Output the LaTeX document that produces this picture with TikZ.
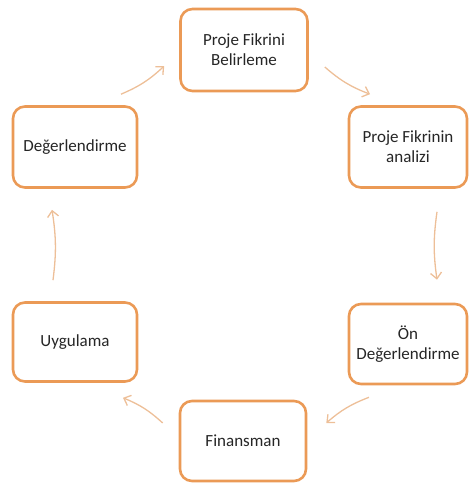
\documentclass[tikz,border=0pt]{standalone}
\usepackage{fontspec}
\setmainfont{Carlito}
\usetikzlibrary{arrows.meta}
\definecolor{boxline}{HTML}{EB9A56}
\definecolor{flowline}{HTML}{EDBF98}
\definecolor{txt}{HTML}{262626}
\tikzset{
  stage/.style={draw=boxline, line width=2.6pt, rounded corners=12pt,
    fill=white, align=center, text=txt, inner sep=2pt,
    font=\fontsize{17}{20}\selectfont},
  flow/.style={draw=flowline, line width=1.3pt,
    -{Straight Barb[length=6pt,width=11pt,line width=1.3pt]}},
}
\begin{document}
\begin{tikzpicture}[x=1pt,y=-1pt]
  \useasboundingbox (0,0) rectangle (470,485);

  % stages of the project cycle
  \node[stage, minimum width=127pt, minimum height=82pt] (fikir) at (244,50) {Proje Fikrini\\Belirleme};
  \node[stage, minimum width=118pt, minimum height=81pt] (analiz) at (408,147) {Proje Fikrinin\\analizi};
  \node[stage, minimum width=118pt, minimum height=80pt] (on) at (408,344) {Ön\\Değerlendirme};
  \node[stage, minimum width=126pt, minimum height=80pt] (finans) at (243,441) {Finansman};
  \node[stage, minimum width=124pt, minimum height=79pt] (uygulama) at (75,342) {Uygulama};
  \node[stage, minimum width=124pt, minimum height=81pt] (deger) at (75,147) {Değerlendirme};

  % clockwise arrows between the stages
  \draw[flow] ([shift={(16,17)}]fikir.east) to[bend right=10] ([shift={(-38,-11)}]analiz.north);
  \draw[flow] ([shift={(29,23)}]analiz.south) to[bend right=8] ([shift={(29,-23)}]on.north);
  \draw[flow] ([shift={(-39,12)}]on.south) to[bend right=10] ([shift={(19,-18)}]finans.east);
  \draw[flow] ([shift={(-16,-18)}]finans.west) to[bend right=10] ([shift={(48,15)}]uygulama.south);
  \draw[flow] ([shift={(-22,-21)}]uygulama.north) to[bend right=8] ([shift={(-23,21)}]deger.south);
  \draw[flow] ([shift={(46,-11)}]deger.north) to[bend right=10] ([shift={(-15,16)}]fikir.west);
\end{tikzpicture}
\end{document}
